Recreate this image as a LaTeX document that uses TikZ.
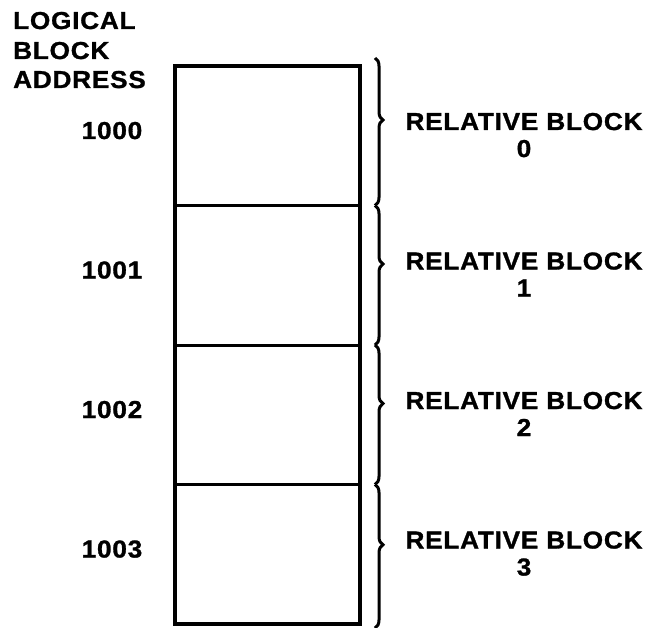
\documentclass[tikz,border=0pt]{standalone}
\usepackage{fontspec}
\setmainfont{Liberation Sans}[LetterSpace=3,FakeStretch=1.07,FakeBold=1.2]
\usetikzlibrary{decorations.pathreplacing}
\begin{document}
\begin{tikzpicture}[x=1pt,y=-1pt,
  every node/.style={font=\fontsize{24.5}{28}\selectfont\bfseries,inner sep=0pt},
  blockbox/.style={draw,line width=3pt,outer sep=0pt,
    minimum width=185pt,minimum height=139.5pt},
  curly/.style={decorate,decoration={brace,amplitude=8pt,aspect=.42},
    line width=3pt}]
\useasboundingbox (0,0) rectangle (655,628);
\foreach \lab/\y in {LOGICAL/29,BLOCK/59,ADDRESS/88}
  \node[anchor=base west] at (13,\y) {\lab};
\foreach \i in {0,...,3}{
  \node[blockbox] (blk\i) at (267,{135.75+139.5*\i}) {};
  \node[anchor=base] (addr\i) at (112,{139+139.5*\i}) {100\i};
  \node[anchor=base] (rel\i) at (524,{130+139.5*\i}) {RELATIVE BLOCK};
  \node[anchor=base] (num\i) at (524,{157+139.5*\i}) {\i};
}
\draw[line width=4pt] (blk0.north west) rectangle (blk3.south east);
\coordinate (b0) at (375,58);    \coordinate (b1) at (375,205.5);
\coordinate (b2) at (375,345);   \coordinate (b3) at (375,484.5);
\coordinate (b4) at (375,628);
\foreach \a/\b in {b0/b1,b1/b2,b2/b3,b3/b4}
  \draw[curly] (\a) -- (\b);
\end{tikzpicture}
\end{document}
